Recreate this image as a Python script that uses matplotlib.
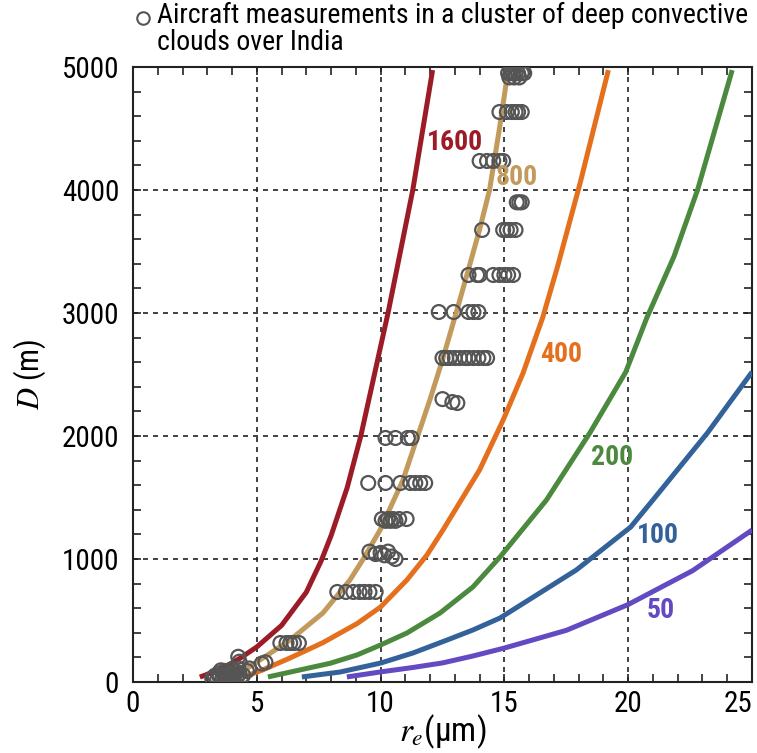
import matplotlib
matplotlib.use('Agg')
import matplotlib.pyplot as plt
from matplotlib import font_manager
from matplotlib.font_manager import FontProperties
from matplotlib.lines import Line2D
from matplotlib.ticker import MultipleLocator, FuncFormatter


def pick_narrow():
    # look for a narrow / condensed sans; None if nothing suitable is installed
    for fam in ['Liberation Sans Narrow', 'Roboto Condensed', 'Noto Sans Condensed',
                'Open Sans Condensed', 'DejaVu Sans Condensed']:
        try:
            font_manager.findfont(FontProperties(family=fam), fallback_to_default=False)
            return fam, 'normal'
        except ValueError:
            pass
    for fam in ['Roboto', 'Noto Sans', 'Open Sans', 'DejaVu Sans']:
        for st in ['condensed', 'semi-condensed']:
            p = font_manager.findfont(FontProperties(family=fam, stretch=st))
            if 'ondensed' in p or 'arrow' in p:
                return fam, st
    return None


found = pick_narrow()
if found:
    family, stretch = found
    scale = 1.0
else:
    family, stretch = 'Liberation Sans', 'normal'
    scale = 0.88
plt.rcParams['font.family'] = [family, 'DejaVu Sans']
plt.rcParams['font.stretch'] = stretch
plt.rcParams['mathtext.fontset'] = 'stix'

# ---- model curves (r_e in um, D in m), labelled by droplet concentration ----
re_1600 = [2.7, 3.5, 4.3, 5.0, 6.0, 7.0, 7.6, 8.0, 8.65, 9.2, 10.3, 11.3, 12.1]
D_1600 = [40, 100, 190, 285, 460, 730, 985, 1190, 1580, 2000, 3000, 4000, 4975]

re_800 = [3.4, 4.2, 4.6, 5.25, 6.34, 7.67, 8.76, 9.3, 9.98, 10.9, 11.5, 12.0, 12.5,
          13.05, 13.5, 14.0, 14.4, 14.8, 15.15]
D_800 = [40, 80, 110, 195, 341, 561, 829, 1000, 1236, 1640, 2000, 2300, 2620,
         3000, 3320, 3680, 4000, 4500, 4975]

re_400 = [4.65, 5.2, 6.34, 7.67, 9.05, 10.0, 11.06, 11.87, 12.52, 14.0, 14.95, 15.75,
          16.55, 17.15, 18.05, 19.2]
D_400 = [55, 95, 195, 320, 475, 610, 829, 1032, 1236, 1725, 2130, 2510,
         2965, 3380, 4050, 4975]

re_200 = [5.45, 6.74, 7.96, 9.05, 10.0, 11.06, 12.4, 13.73, 14.82, 16.7, 18.45, 19.9,
          20.75, 21.85, 22.8, 24.2]
D_200 = [41, 98, 152, 220, 301, 398, 561, 773, 1016, 1480, 2025, 2520,
         2960, 3460, 4000, 4975]

re_100 = [6.82, 8.36, 10.0, 11.31, 12.68, 13.73, 14.82, 17.9, 20.1, 21.0, 23.2, 25.0]
D_100 = [41, 81, 154, 236, 341, 423, 520, 910, 1260, 1480, 2025, 2520]

re_50 = [8.64, 10.0, 11.3, 12.5, 13.7, 15.0, 17.5, 20.0, 22.6, 25.0]
D_50 = [41, 82, 118, 155, 210, 276, 420, 630, 905, 1235]

curve_labels = ['1600', '800', '400', '200', '100', '50']
curve_colors = ['#9b1c26', '#c29a5c', '#e4701d', '#4b8a3e', '#33629a', '#6349c2']
label_re = [13.0, 15.5, 17.3, 19.35, 21.2, 21.3]
label_D = [4390, 4098, 2659, 1829, 1195, 585]

# ---- aircraft measurements ----
obs_re = [
    3.2, 3.3, 3.4, 3.45, 3.5, 3.6, 3.65, 3.7, 3.75, 3.8, 3.85, 3.9, 3.95, 4.0,
    4.05, 4.1, 4.15, 4.2, 4.3, 4.35, 4.45, 4.6, 4.7, 3.55, 4.25,
    4.25, 4.3, 5.2, 5.35,
    5.95, 6.2, 6.35, 6.5, 6.7,
    8.25, 8.6, 8.9, 9.15, 9.35, 9.55, 9.8,
    9.55, 9.8, 10.0, 10.15, 10.3, 10.45, 10.6,
    10.05, 10.3, 10.5, 10.75, 11.05, 10.2, 10.4, 10.6,
    9.5, 10.2, 10.8, 11.2, 11.4, 11.6, 11.8,
    10.2, 10.6, 11.1, 11.25,
    12.5, 12.9, 13.1,
    12.5, 12.65, 12.8, 13.0, 13.2, 13.4, 13.55, 13.75, 13.95, 14.15, 14.3,
    12.35, 12.95, 13.55, 13.75, 13.95,
    13.55, 13.9, 14.0, 14.55, 14.8, 15.0, 15.15, 15.35,
    14.1, 14.95, 15.1, 15.25, 15.45,
    15.5, 15.6, 15.7,
    14.0, 14.3, 14.55, 14.8, 14.95,
    14.8, 15.1, 15.3, 15.45, 15.55, 15.7,
    15.15, 15.25, 15.35, 15.45, 15.55, 15.7, 15.8, 15.2, 15.4, 15.6,
]
obs_D = [
    30, 50, 20, 70, 40, 25, 60, 90, 35, 55, 20, 75, 45, 100,
    30, 60, 85, 40, 70, 25, 55, 90, 110, 95, 110,
    205, 165, 150, 160,
    317, 317, 317, 317, 317,
    732, 732, 732, 732, 732, 732, 732,
    1060, 1040, 1050, 1030, 1060, 1020, 1000,
    1325, 1325, 1325, 1325, 1325, 1310, 1310, 1310,
    1618, 1618, 1618, 1618, 1618, 1618, 1618,
    1984, 1984, 1984, 1984,
    2300, 2276, 2268,
    2634, 2634, 2634, 2634, 2634, 2634, 2634, 2634, 2634, 2634, 2634,
    3008, 3008, 3008, 3008, 3008,
    3309, 3309, 3309, 3309, 3309, 3309, 3309, 3309,
    3675, 3675, 3675, 3675, 3675,
    3900, 3900, 3900,
    4236, 4236, 4236, 4236, 4236,
    4634, 4634, 4634, 4634, 4634, 4634,
    4950, 4950, 4950, 4950, 4950, 4950, 4950, 4915, 4915, 4915,
]

x_max = 25

fig = plt.figure(figsize=(7.57, 7.53), dpi=100)
ax = fig.add_axes([133 / 757, 71 / 753, 619 / 757, 615 / 753])

curves = [(re_1600, D_1600), (re_800, D_800), (re_400, D_400),
          (re_200, D_200), (re_100, D_100), (re_50, D_50)]
for (xs, ys), c in zip(curves, curve_colors):
    ax.plot(xs, ys, color=c, lw=3.6, solid_capstyle='butt', solid_joinstyle='round',
            zorder=3)

ax.scatter(obs_re, obs_D, s=100, facecolors='none', edgecolors='#555555',
           linewidths=1.6, zorder=4)

for lab, c, x, y in zip(curve_labels, curve_colors, label_re, label_D):
    ax.text(x, y, lab, color=c, fontsize=20 * scale, fontweight='bold',
            ha='center', va='center', zorder=5)

ax.set_xlim(0, x_max)
ax.set_ylim(0, 5000)
ax.xaxis.set_major_locator(MultipleLocator(5))
ax.xaxis.set_minor_locator(MultipleLocator(1))
ax.yaxis.set_major_locator(MultipleLocator(1000))
ax.yaxis.set_minor_locator(MultipleLocator(200))
# the last x label is drawn separately, right-aligned to the axis end
ax.xaxis.set_major_formatter(FuncFormatter(lambda v, p: '' if v >= x_max else f'{v:g}'))
ax.tick_params(which='both', direction='in', top=True, right=True,
               width=1.2, color='#222222', length=6)
ax.tick_params(which='major', labelsize=21 * scale)
ax.tick_params(axis='x', which='major', pad=6)
ax.tick_params(axis='y', which='major', pad=10)
ax.grid(True, which='major', color='#222222', lw=1.2, linestyle=(0, (3, 3)))
for sp in ax.spines.values():
    sp.set_linewidth(1.5)
    sp.set_color('#222222')

ax.annotate(f'{x_max:g}', xy=(x_max, 0), xycoords=ax.get_xaxis_transform(),
            xytext=(0, -6), textcoords='offset points',
            ha='right', va='top', fontsize=21 * scale)

ax.set_xlabel(r'$r_e$(μm)', fontsize=24, labelpad=-4)
ax.set_ylabel(r'$D$ (m)', fontsize=22, labelpad=10)

# legend written by hand above the axes
fig.add_artist(Line2D([143 / 757], [1 - 18 / 753], transform=fig.transFigure,
                      marker='o', ms=9, mfc='none', mec='#555555', mew=1.5))
fig.text(157 / 757, 1 - 2 / 753,
         'Aircraft measurements in a cluster of deep convective\nclouds over India',
         fontsize=20 * scale, ha='left', va='top', linespacing=1.0)

fig.savefig('out.png', dpi=100, facecolor='white')
